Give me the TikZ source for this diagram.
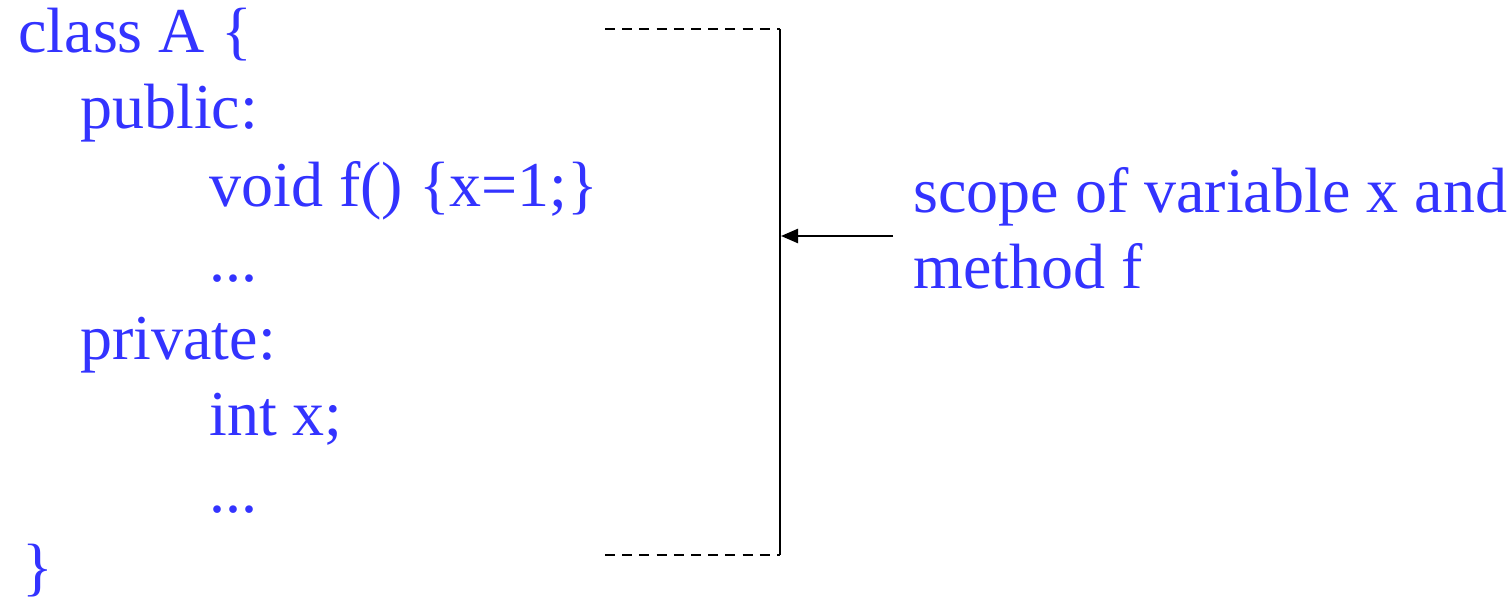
\documentclass[tikz,border=0pt]{standalone}
\usepackage{fontspec}
\setmainfont{Liberation Serif}
\usetikzlibrary{arrows.meta}
\definecolor{codeblue}{RGB}{51,51,255}
\begin{document}
\begin{tikzpicture}[x=0.5pt,y=-0.5pt,
  code/.style={anchor=base west,inner sep=0pt,text=codeblue,font=\fontsize{32}{38}\selectfont},
  dashline/.style={line width=1.3pt,dash pattern=on 5pt off 3.6pt},
  solidline/.style={line width=1.3pt},
  pointer/.style={line width=1.2pt,-{Triangle[length=8.5pt,width=7pt]}}]
\useasboundingbox (0,0) rectangle (1512,599);
\node[code] (l1) at (18,53) {class A \{};
\node[code] (l2) at (80,129) {public:};
\node[code] (l3) at (209,206) {void f() \{x=1;\}};
\node[code] (l4) at (209,282) {...};
\node[code] (l5) at (80,359) {private:};
\node[code] (l6) at (209,435) {int x;};
\node[code] (l7) at (209,512) {...};
\node[code] (l8) at (22,588) {\}};
\node[code] (s1) at (913,213) {scope of variable x and};
\node[code] (s2) at (913,288) {method f};
\coordinate (tl) at (605,29);
\coordinate (tr) at (780,29);
\coordinate (br) at (780,555);
\coordinate (bl) at (605,555);
\coordinate (am) at (781,236);
\coordinate (as) at (893,236);
\draw[dashline] (tl) -- (tr);
\draw[dashline] (bl) -- (br);
\draw[solidline] (tr) -- (br);
\draw[pointer] (as) -- (am);
\end{tikzpicture}
\end{document}
